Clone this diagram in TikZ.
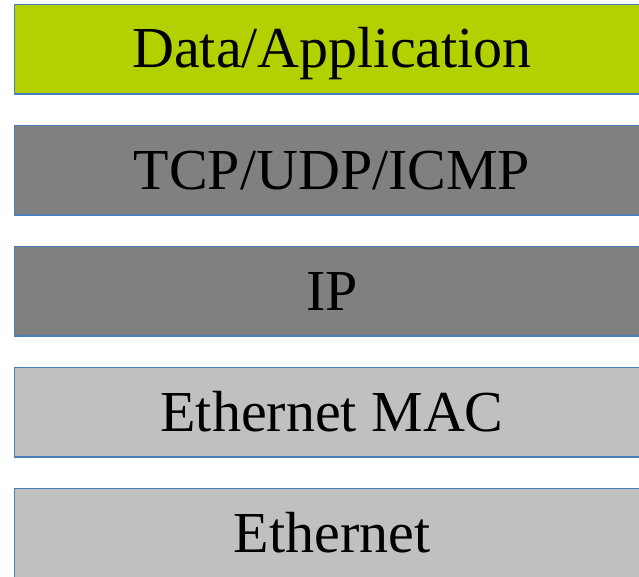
\documentclass[tikz,border=0pt]{standalone}
\usepackage{fontspec}
\setmainfont{Liberation Serif}
\definecolor{layerblue}{RGB}{74,126,187}
\definecolor{applime}{RGB}{179,208,0}
\definecolor{darkgrey}{RGB}{128,128,128}
\definecolor{lightgrey}{RGB}{192,192,192}
\tikzset{
  layer/.style={draw=layerblue, line width=1.2pt},
  layertext/.style={anchor=base, inner sep=0pt, font=\fontsize{58}{60}\selectfont}
}
\begin{document}
\begin{tikzpicture}[x=1pt,y=-1pt]
  \useasboundingbox (0,0) rectangle (639,576);
  \clip (0,0) rectangle (639,576);
  % protocol stack, top to bottom
  \path[layer, fill=applime]   (14.5,4.5)   rectangle (650,94)  coordinate (r1);
  \path[layer, fill=darkgrey]  (14.5,125.5) rectangle (650,215) coordinate (r2);
  \path[layer, fill=darkgrey]  (14.5,246.5) rectangle (650,336) coordinate (r3);
  \path[layer, fill=lightgrey] (14.5,367.5) rectangle (650,457) coordinate (r4);
  \path[layer, fill=lightgrey] (14.5,488.5) rectangle (650,580) coordinate (r5);
  \node[layertext] (app)  at (332,67)  {Data/Application};
  \node[layertext] (tcp)  at (332,189) {TCP/UDP/ICMP};
  \node[layertext] (ip)   at (332,310) {IP};
  \node[layertext] (mac)  at (332,431) {Ethernet MAC};
  \node[layertext] (phy)  at (332,552) {Ethernet};
\end{tikzpicture}
\end{document}
